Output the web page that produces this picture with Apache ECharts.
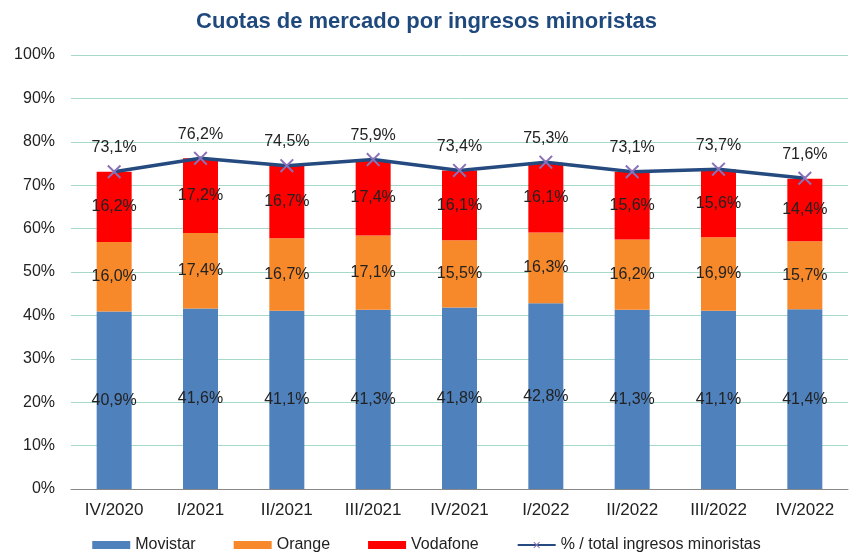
<!DOCTYPE html>
<html>
<head>
<meta charset="utf-8">
<script src="https://cdn.jsdelivr.net/npm/echarts@6/dist/echarts.min.js"></script>
<style>
  html, body { margin: 0; padding: 0; background: #fff; }
  #chart { width: 853px; height: 558px; }
</style>
</head>
<body>
<div id="chart"></div>
<script>
const categories = ['IV/2020', 'I/2021', 'II/2021', 'III/2021', 'IV/2021', 'I/2022', 'II/2022', 'III/2022', 'IV/2022']
const movistar = [40.9, 41.6, 41.1, 41.3, 41.8, 42.8, 41.3, 41.1, 41.4]
const orange = [16.0, 17.4, 16.7, 17.1, 15.5, 16.3, 16.2, 16.9, 15.7]
const vodafone = [16.2, 17.2, 16.7, 17.4, 16.1, 16.1, 15.6, 15.6, 14.4]
const total = [73.1, 76.2, 74.5, 75.9, 73.4, 75.3, 73.1, 73.7, 71.6]

const fmt = (p) => p.value.toFixed(1).replace('.', ',') + '%'
const font = 'Liberation Sans, Arial, sans-serif'
// cruz tipo "x" para los marcadores de la línea
const crossPath = 'path://M0,1L1,0L5,4L9,0L10,1L6,5L10,9L9,10L5,6L1,10L0,9L4,5Z'

const barLabel = {
  show: true,
  position: 'inside',
  formatter: fmt,
  color: '#222',
  fontSize: 16,
  fontFamily: font,
}

const chart = echarts.init(document.getElementById('chart'))
chart.setOption({
  animation: false,
  title: {
    text: 'Cuotas de mercado por ingresos minoristas',
    left: 'center',
    top: 6,
    textStyle: { color: '#1f497d', fontSize: 22, fontWeight: 'bold', fontFamily: font },
  },
  grid: { left: 71, right: 5, top: 55, bottom: 69 },
  legend: {
    bottom: 0,
    itemWidth: 38,
    itemHeight: 8,
    itemGap: 38,
    textStyle: { color: '#222', fontSize: 16, fontFamily: font },
    data: [
      { name: 'Movistar', icon: 'rect' },
      { name: 'Orange', icon: 'rect' },
      { name: 'Vodafone', icon: 'rect' },
      { name: '% / total ingresos minoristas' },
    ],
  },
  xAxis: {
    type: 'category',
    data: categories,
    axisLine: { lineStyle: { color: '#888', width: 1 } },
    axisTick: { length: 6, lineStyle: { color: '#888' } },
    axisLabel: { color: '#222', fontSize: 17, fontFamily: font, margin: 13 },
  },
  yAxis: {
    type: 'value',
    min: 0,
    max: 100,
    interval: 10,
    axisLine: { show: false },
    axisTick: { show: false },
    axisLabel: { formatter: '{value}%', color: '#222', fontSize: 16, fontFamily: font, margin: 16 },
    splitLine: { lineStyle: { color: '#a6d9c9', width: 1 } },
  },
  series: [
    {
      name: 'Movistar', type: 'bar', stack: 'total', data: movistar, barWidth: 35,
      itemStyle: { color: '#4f81bd' }, label: barLabel,
    },
    {
      name: 'Orange', type: 'bar', stack: 'total', data: orange, barWidth: 35,
      itemStyle: { color: '#f7892a' }, label: barLabel,
    },
    {
      name: 'Vodafone', type: 'bar', stack: 'total', data: vodafone, barWidth: 35,
      itemStyle: { color: '#ff0000' }, label: barLabel,
    },
    {
      name: '% / total ingresos minoristas', type: 'line', data: total,
      symbol: crossPath, symbolSize: 14,
      itemStyle: { color: '#8a72b8' },
      lineStyle: { color: '#254a7f', width: 3.5 },
      label: {
        show: true, position: 'top', distance: 9, formatter: fmt,
        color: '#222', fontSize: 16, fontFamily: font,
      },
      z: 5,
    },
  ],
})
</script>
</body>
</html>
